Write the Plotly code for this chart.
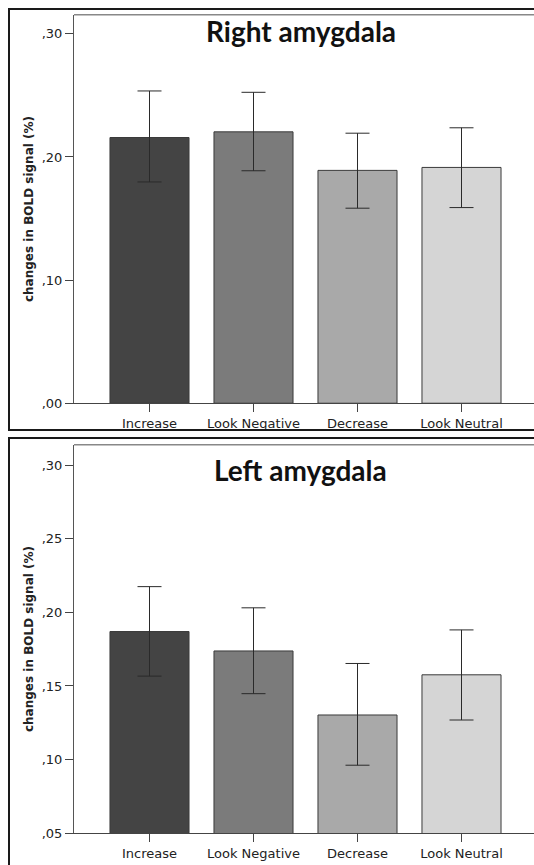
import plotly.graph_objects as go

# ---- data ----
categories = ["Increase", "Look Negative", "Decrease", "Look Neutral"]
bar_colors = ["#444444", "#7b7b7b", "#a9a9a9", "#d5d5d5"]

right_mean = [0.2158, 0.2204, 0.1891, 0.1915]
right_upper = [0.2536, 0.2525, 0.2193, 0.2237]
right_lower = [0.1797, 0.1888, 0.1584, 0.1589]

left_mean = [0.1870, 0.1738, 0.1303, 0.1576]
left_upper = [0.2175, 0.2031, 0.1653, 0.1881]
left_lower = [0.1567, 0.1448, 0.0962, 0.1269]

right_tickvals = [0.0, 0.1, 0.2, 0.3]
right_ticktext = [",00", ",10", ",20", ",30"]
left_tickvals = [0.05, 0.10, 0.15, 0.20, 0.25, 0.30]
left_ticktext = [",05", ",10", ",15", ",20", ",25", ",30"]

panel_titles = ["Right amygdala", "Left amygdala"]
y_title = "changes in BOLD signal (%)"

W, H = 534, 865


def fy(Y):
    return (H - Y) / H


def fx(X):
    return X / W


def err(mean, up, lo):
    return [u - m for u, m in zip(up, mean)], [m - l for m, l in zip(mean, lo)]


fig = go.Figure()

for mean, up, lo, xa, ya in [
    (right_mean, right_upper, right_lower, "x", "y"),
    (left_mean, left_upper, left_lower, "x2", "y2"),
]:
    e_plus, e_minus = err(mean, up, lo)
    fig.add_trace(go.Bar(
        x=categories, y=mean, xaxis=xa, yaxis=ya,
        marker=dict(color=bar_colors, line=dict(color="#3a3a3a", width=1)),
        error_y=dict(type="data", symmetric=False, array=e_plus, arrayminus=e_minus,
                     color="#2a2a2a", thickness=1, width=12),
        showlegend=False, hoverinfo="skip",
    ))

# plot area spans x 74 .. window edge (534); category spacing 104 px
x_left_px = 74
cat_px = 104.0
first_center_px = 149.5
x0 = -(first_center_px - x_left_px) / cat_px
x1 = x0 + (W - x_left_px) / cat_px
xrange = [x0, x1]
tickfont = dict(family="DejaVu Sans", size=13, color="#222222")

common_x = dict(range=xrange, showline=True, linecolor="#444444", linewidth=1,
                ticks="outside", ticklen=8, tickcolor="#444444", tickwidth=1,
                tickfont=tickfont, showgrid=False, zeroline=False, fixedrange=True)
common_y = dict(showline=True, linecolor="#555555", linewidth=1,
                ticks="outside", ticklen=8, tickcolor="#444444", tickwidth=1,
                tickfont=tickfont, showgrid=False, zeroline=False, fixedrange=True)

top_dom = [fy(407), fy(15)]
bot_dom = [fy(841), fy(449)]

fig.update_layout(
    width=W, height=H,
    margin=dict(l=0, r=0, t=0, b=0),
    paper_bgcolor="white", plot_bgcolor="white",
    bargap=0.24,
    xaxis=dict(domain=[fx(x_left_px), 1], anchor="y", **common_x),
    yaxis=dict(domain=top_dom, anchor="x", range=[0, 0.3154],
               tickvals=right_tickvals, ticktext=right_ticktext, **common_y),
    xaxis2=dict(domain=[fx(x_left_px), 1], anchor="y2", **common_x),
    yaxis2=dict(domain=bot_dom, anchor="x2", range=[0.05, 0.3138],
                tickvals=left_tickvals, ticktext=left_ticktext, **common_y),
)

shapes = [
    # outer boxes
    dict(type="rect", xref="paper", yref="paper", x0=fx(9), x1=1.05,
         y0=fy(434), y1=fy(9), line=dict(color="#1a1a1a", width=2)),
    dict(type="rect", xref="paper", yref="paper", x0=fx(9), x1=1.05,
         y0=-0.05, y1=fy(442), line=dict(color="#1a1a1a", width=2)),
    # inner box top lines
    dict(type="line", xref="paper", yref="paper", x0=fx(x_left_px), x1=1.0,
         y0=top_dom[1], y1=top_dom[1], line=dict(color="#888888", width=1.5)),
    dict(type="line", xref="paper", yref="paper", x0=fx(x_left_px), x1=1.0,
         y0=bot_dom[1], y1=bot_dom[1], line=dict(color="#888888", width=1.5)),
]
fig.update_layout(shapes=shapes)

annotations = [
    dict(text=f"<b>{panel_titles[0]}</b>", x=fx(301), y=fy(31), xref="paper", yref="paper",
         showarrow=False, xanchor="center", yanchor="middle",
         font=dict(family="Lato", size=28, color="#111111")),
    dict(text=f"<b>{panel_titles[1]}</b>", x=fx(300), y=fy(474), xref="paper", yref="paper",
         showarrow=False, xanchor="center", yanchor="middle",
         font=dict(family="Lato", size=28, color="#111111")),
    dict(text=f"<b>{y_title}</b>", x=fx(29), y=(top_dom[0] + top_dom[1]) / 2,
         xref="paper", yref="paper", showarrow=False, textangle=-90,
         xanchor="center", yanchor="middle",
         font=dict(family="DejaVu Sans", size=12, color="#222222")),
    dict(text=f"<b>{y_title}</b>", x=fx(29), y=(bot_dom[0] + bot_dom[1]) / 2,
         xref="paper", yref="paper", showarrow=False, textangle=-90,
         xanchor="center", yanchor="middle",
         font=dict(family="DejaVu Sans", size=12, color="#222222")),
]
fig.update_layout(annotations=annotations)

fig.write_html(
    "out.html",
    config={"displayModeBar": False},
    post_script="document.body.style.margin='0';document.body.style.overflow='hidden';",
)
